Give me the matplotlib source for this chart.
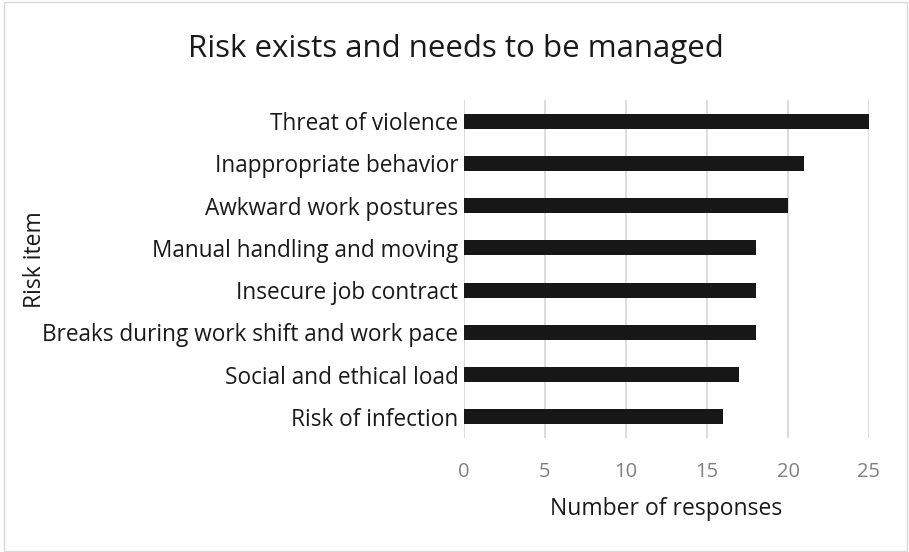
import matplotlib
matplotlib.use("Agg")
import matplotlib.pyplot as plt
from matplotlib.patches import Rectangle

# Data (top to bottom as shown)
risk_items = [
    "Threat of violence",
    "Inappropriate behavior",
    "Awkward work postures",
    "Manual handling and moving",
    "Insecure job contract",
    "Breaks during work shift and work pace",
    "Social and ethical load",
    "Risk of infection",
]
responses = [25, 21, 20, 18, 18, 18, 17, 16]
x_ticks = [0, 5, 10, 15, 20, 25]

plt.rcParams['font.family'] = ['Open Sans', 'DejaVu Sans']

W, H = 909, 552
fig = plt.figure(figsize=(W / 100, H / 100), dpi=100)
ax = fig.add_axes([464 / W, 1 - 438 / H, (869 - 464) / W, 338 / H])

y_pos = list(range(len(risk_items)))[::-1]
ax.barh(y_pos, responses, height=0.355, color='#171717', zorder=3)

ax.set_xlim(0, 25)
ax.set_ylim(-0.5, len(risk_items) - 0.5)
ax.set_xticks(x_ticks)
ax.set_yticks(y_pos)
ax.set_yticklabels(risk_items, fontsize=16.3, color='#1a1a1a')
ax.tick_params(axis='x', colors='#808080', labelsize=14.5, length=0, pad=17)
ax.tick_params(axis='y', length=0, pad=4)
ax.grid(axis='x', color='#d9d9d9', linewidth=1.3, zorder=0)
for s in ax.spines.values():
    s.set_visible(False)

fig.text(666 / W, 1 - 515 / H, "Number of responses", fontsize=16.5,
         color='#1a1a1a', ha='center', va='baseline')
fig.text(47 / W, 1 - 260 / H, "Risk item", rotation=90, fontsize=16.5,
         color='#1a1a1a', ha='right', va='center')
fig.text(456 / W, 1 - 57 / H, "Risk exists and needs to be managed",
         fontsize=22.5, color='#1a1a1a', ha='center', va='baseline')

# light border around the chart area
fig.patches.append(Rectangle((3.5 / W, 1.5 / H), (W - 6) / W, (H - 3) / H,
                             transform=fig.transFigure, fill=False,
                             edgecolor='#d9d9d9', linewidth=1))

fig.savefig("out.png", dpi=100)
